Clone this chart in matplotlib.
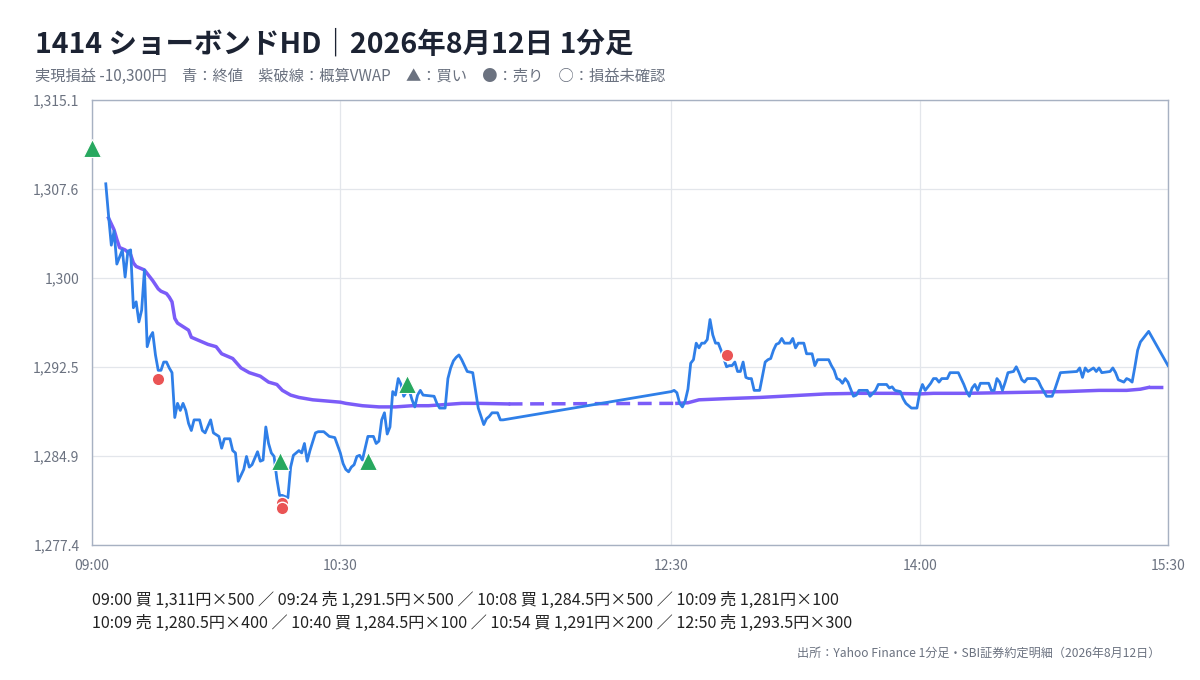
import numpy as np
import matplotlib
matplotlib.use("Agg")
import matplotlib.pyplot as plt

plt.rcParams['font.family'] = ['Noto Sans CJK JP', 'DejaVu Sans']

# 1-minute closes, time = minutes after 09:00
am_min = [5, 6, 7, 8, 9, 10, 11, 12, 13, 14, 15, 16, 17, 18, 19, 20, 21, 22, 23, 24,
          25, 26, 27, 28, 29, 30, 31, 32, 33, 34, 35, 36, 37, 39, 40, 41, 43, 44, 46, 47,
          48, 50, 51, 52, 53, 55, 56, 57, 58, 60, 61, 62, 63, 64, 65, 66, 67, 68, 69, 70,
          71, 72, 73, 75, 76, 77, 78, 79, 81, 82, 84, 86, 88, 90, 91, 92, 93, 94, 95, 96,
          97, 98, 99, 100, 102, 103, 104, 105, 106, 107, 108, 109, 110, 111, 112, 113, 114, 115, 116, 117,
          118, 119, 120, 124, 125, 126, 128, 129, 130, 131, 132, 133, 134, 135, 136, 138, 139, 140, 141, 142,
          143, 144, 145, 147, 148, 149]
am_close = [1308.0, 1305.3, 1302.8, 1304.0, 1301.2, 1301.8, 1302.4, 1300.1, 1302.3, 1302.4,
            1297.5, 1298.0, 1296.3, 1297.3, 1300.7, 1294.2, 1295.0, 1295.4, 1293.5, 1292.2,
            1292.2, 1292.9, 1292.9, 1292.4, 1292.0, 1288.2, 1289.4, 1288.8, 1289.4, 1288.8,
            1287.7, 1287.1, 1288.0, 1288.0, 1287.1, 1286.9, 1288.0, 1286.9, 1286.6, 1285.6,
            1286.4, 1286.4, 1285.4, 1285.2, 1282.8, 1283.8, 1284.9, 1284.0, 1284.2, 1285.3,
            1284.5, 1284.6, 1287.4, 1286.0, 1285.2, 1284.9, 1283.0, 1281.6, 1281.6, 1281.5,
            1281.4, 1284.0, 1285.0, 1285.4, 1285.2, 1286.0, 1284.5, 1285.4, 1286.9, 1287.0,
            1287.0, 1286.6, 1286.5, 1285.2, 1284.3, 1283.8, 1283.6, 1284.0, 1284.2, 1284.9,
            1285.0, 1284.6, 1285.6, 1286.6, 1286.6, 1286.0, 1286.2, 1288.0, 1288.6, 1286.8,
            1287.4, 1290.4, 1290.1, 1291.5, 1291.0, 1290.0, 1290.4, 1290.5, 1289.7, 1289.1,
            1290.1, 1290.5, 1290.1, 1290.0, 1289.4, 1289.0, 1289.0, 1291.5, 1292.4, 1293.0,
            1293.3, 1293.5, 1293.1, 1292.6, 1292.1, 1292.0, 1290.5, 1289.0, 1288.3, 1287.6,
            1288.1, 1288.3, 1288.6, 1288.6, 1288.0, 1288.0]

pm_min = [210, 211, 212, 213, 214, 215, 216, 217, 218, 219, 220, 221, 222, 223, 224, 225, 226, 227, 228, 229,
          230, 231, 232, 233, 234, 235, 236, 237, 238, 239, 240, 242, 243, 244, 245, 246, 247, 248, 249, 250,
          251, 253, 254, 255, 256, 258, 259, 261, 262, 263, 267, 268, 269, 270, 271, 272, 273, 274, 275, 276,
          277, 278, 281, 282, 284, 285, 288, 289, 290, 291, 293, 294, 295, 296, 297, 299, 300, 301, 302, 304,
          305, 306, 307, 308, 310, 311, 314, 315, 316, 317, 318, 319, 320, 321, 322, 325, 326, 327, 328, 329,
          330, 331, 332, 334, 335, 336, 337, 338, 339, 342, 343, 344, 345, 346, 348, 349, 350, 351, 357, 358,
          359, 360, 361, 363, 364, 365, 366, 369, 370, 371, 372, 374, 375, 376, 377, 378, 379, 380, 381, 383,
          390]
pm_close = [1290.4, 1290.5, 1290.3, 1289.4, 1289.1, 1289.6, 1290.6, 1292.8, 1293.1, 1294.5,
            1294.1, 1294.5, 1294.5, 1294.8, 1296.5, 1295.2, 1294.5, 1294.5, 1293.9, 1293.2,
            1292.5, 1292.6, 1292.6, 1292.9, 1292.1, 1292.1, 1292.9, 1291.6, 1291.5, 1291.5,
            1290.5, 1290.5, 1291.7, 1292.9, 1293.1, 1293.2, 1293.9, 1294.4, 1294.5, 1294.9,
            1294.5, 1294.5, 1294.9, 1294.1, 1294.5, 1294.5, 1293.6, 1293.6, 1292.6, 1293.1,
            1293.1, 1292.6, 1292.2, 1291.5, 1291.4, 1291.1, 1291.5, 1291.2, 1290.6, 1290.0,
            1290.1, 1290.5, 1290.5, 1290.0, 1290.5, 1291.0, 1291.0, 1290.7, 1290.8, 1290.5,
            1290.4, 1289.8, 1289.4, 1289.2, 1289.0, 1289.0, 1290.3, 1291.0, 1290.5, 1291.1,
            1291.5, 1291.5, 1291.2, 1291.5, 1291.5, 1292.0, 1292.0, 1291.5, 1291.0, 1290.4,
            1290.0, 1290.7, 1291.0, 1290.5, 1291.1, 1291.1, 1290.5, 1290.5, 1291.5, 1291.2,
            1290.5, 1291.2, 1292.0, 1292.1, 1292.5, 1292.0, 1291.4, 1291.2, 1291.5, 1291.5,
            1291.3, 1290.8, 1290.4, 1290.0, 1290.0, 1290.6, 1291.3, 1292.0, 1292.1, 1292.4,
            1291.6, 1292.4, 1292.1, 1292.4, 1292.1, 1292.4, 1292.0, 1292.1, 1292.4, 1292.0,
            1291.4, 1291.2, 1291.5, 1291.4, 1291.2, 1292.5, 1293.9, 1294.6, 1294.9, 1295.5,
            1292.6]

# approximate VWAP
vwap_am_min = [6, 7, 8, 9, 10, 12, 14, 15, 16, 18, 19, 20, 22, 24, 25, 27, 28, 29, 30, 31,
               33, 35, 36, 38, 40, 42, 45, 47, 49, 51, 54, 57, 61, 64, 67, 69, 72, 75, 80, 85,
               90, 92, 98, 104, 110, 116, 122, 128, 134, 140, 151]
vwap_am = [1305.1, 1304.6, 1304.1, 1303.3, 1302.6, 1302.4, 1302.0, 1301.3, 1301.0, 1300.8,
           1300.7, 1300.4, 1299.8, 1299.1, 1298.9, 1298.7, 1298.4, 1298.0, 1296.6, 1296.2,
           1295.9, 1295.6, 1295.0, 1294.8, 1294.6, 1294.4, 1294.2, 1293.6, 1293.4, 1293.2,
           1292.4, 1292.0, 1291.7, 1291.2, 1291.0, 1290.5, 1290.1, 1289.9, 1289.7, 1289.6,
           1289.5, 1289.4, 1289.2, 1289.1, 1289.1, 1289.2, 1289.2, 1289.3, 1289.4, 1289.4,
           1289.35]
vwap_pm_min = [212, 216, 220, 230, 242, 254, 266, 278, 290, 300, 305, 317, 329, 341, 353, 365, 375, 380, 383]
vwap_pm = [1289.4, 1289.45, 1289.7, 1289.8, 1289.9, 1290.05, 1290.2, 1290.25, 1290.25, 1290.2,
           1290.25, 1290.25, 1290.3, 1290.35, 1290.4, 1290.5, 1290.5, 1290.6, 1290.75]
vwap_close = 1290.75

# executions
trade_time = ["09:00", "09:24", "10:08", "10:09", "10:09", "10:40", "10:54", "12:50"]
trade_side = ["買", "売", "買", "売", "売", "買", "買", "売"]
trade_price = [1311, 1291.5, 1284.5, 1281, 1280.5, 1284.5, 1291, 1293.5]
trade_qty = [500, 500, 500, 100, 400, 100, 200, 300]

x_ticks = ["09:00", "10:30", "12:30", "14:00", "15:30"]
y_lo, y_hi = 1277.4, 1315.1

BLUE = "#2f7fe8"
PURPLE = "#7b5cf8"
GREEN = "#27a85f"
RED = "#ea5455"
GRAY = "#6b7280"


def to_min(s):
    h, m = s.split(":")
    return (int(h) - 9) * 60 + int(m)


def yen(v):
    s = f"{v:,.1f}"
    return s[:-2] if s.endswith(".0") else s


fig = plt.figure(figsize=(12, 6.8), dpi=100)
ax = fig.add_axes([92 / 1200, 1 - 545 / 680, 1076 / 1200, 445 / 680])

# price: morning, lunch gap joined, afternoon
px_t = am_min + pm_min
px_v = am_close + pm_close
ax.plot(px_t, px_v, color=BLUE, lw=2.0, zorder=3)

# vwap: solid in session, dashed over gaps
ax.plot(vwap_am_min, vwap_am, color=PURPLE, lw=2.5, zorder=2)
ax.plot(vwap_pm_min, vwap_pm, color=PURPLE, lw=2.5, zorder=2)
ax.plot([vwap_am_min[-1], vwap_pm_min[0]], [vwap_am[-1], vwap_pm[0]],
        color=PURPLE, lw=2.5, ls=(0, (4, 2.2)), zorder=2)
ax.plot([vwap_pm_min[-1], to_min("15:30")], [vwap_pm[-1], vwap_close],
        color=PURPLE, lw=2.5, ls=(0, (4, 2.2)), zorder=2)

for t, sd, p in zip(trade_time, trade_side, trade_price):
    if sd == "買":
        ax.plot(to_min(t), p, marker='^', ms=13, color=GREEN, mec='white', mew=0.8,
                ls='', zorder=5, clip_on=False)
    else:
        ax.plot(to_min(t), p, marker='o', ms=9, color=RED, mec='white', mew=1.0,
                ls='', zorder=5, clip_on=False)

ax.set_xlim(0, to_min("15:30"))
ax.set_ylim(y_lo, y_hi)
ax.set_xticks([to_min(s) for s in x_ticks])
ax.set_xticklabels(x_ticks)
yt = np.linspace(y_lo, y_hi, 6)
ax.set_yticks(yt)
ax.set_yticklabels([yen(round(v, 1)) for v in yt])
ax.tick_params(length=0, colors=GRAY, labelsize=10)
ax.tick_params(axis='y', pad=9)
ax.tick_params(axis='x', pad=10)
ax.grid(color="#e3e6eb", lw=0.9)
ax.set_axisbelow(True)
for sp in ax.spines.values():
    sp.set_color("#a7b1c2")
    sp.set_linewidth(1.0)

# realized P&L from executions
pnl = sum(p * q * (1 if s == "売" else -1) for s, p, q in zip(trade_side, trade_price, trade_qty))

fig.text(35 / 1200, 1 - 44 / 680, "1414 ショーボンドHD｜2026年8月12日 1分足",
         fontsize=20.5, fontweight='bold', color="#1c2333", va='center')
fig.text(35 / 1200, 1 - 76 / 680,
         f"実現損益 {pnl:,.0f}円　青：終値　紫破線：概算VWAP　▲：買い　●：売り　○：損益未確認",
         fontsize=11, color=GRAY, va='center')

items = [f"{t} {s} {yen(p)}円×{q}" for t, s, p, q in zip(trade_time, trade_side, trade_price, trade_qty)]
fig.text(92 / 1200, 1 - 600 / 680, " ／ ".join(items[:4]), fontsize=11.6, color="#222222", va='center')
fig.text(92 / 1200, 1 - 623 / 680, " ／ ".join(items[4:]), fontsize=11.6, color="#222222", va='center')
fig.text(1160 / 1200, 1 - 653 / 680, "出所：Yahoo Finance 1分足・SBI証券約定明細（2026年8月12日）",
         fontsize=8.7, color=GRAY, ha='right', va='center')

fig.savefig("out.png", dpi=100, facecolor='white')
